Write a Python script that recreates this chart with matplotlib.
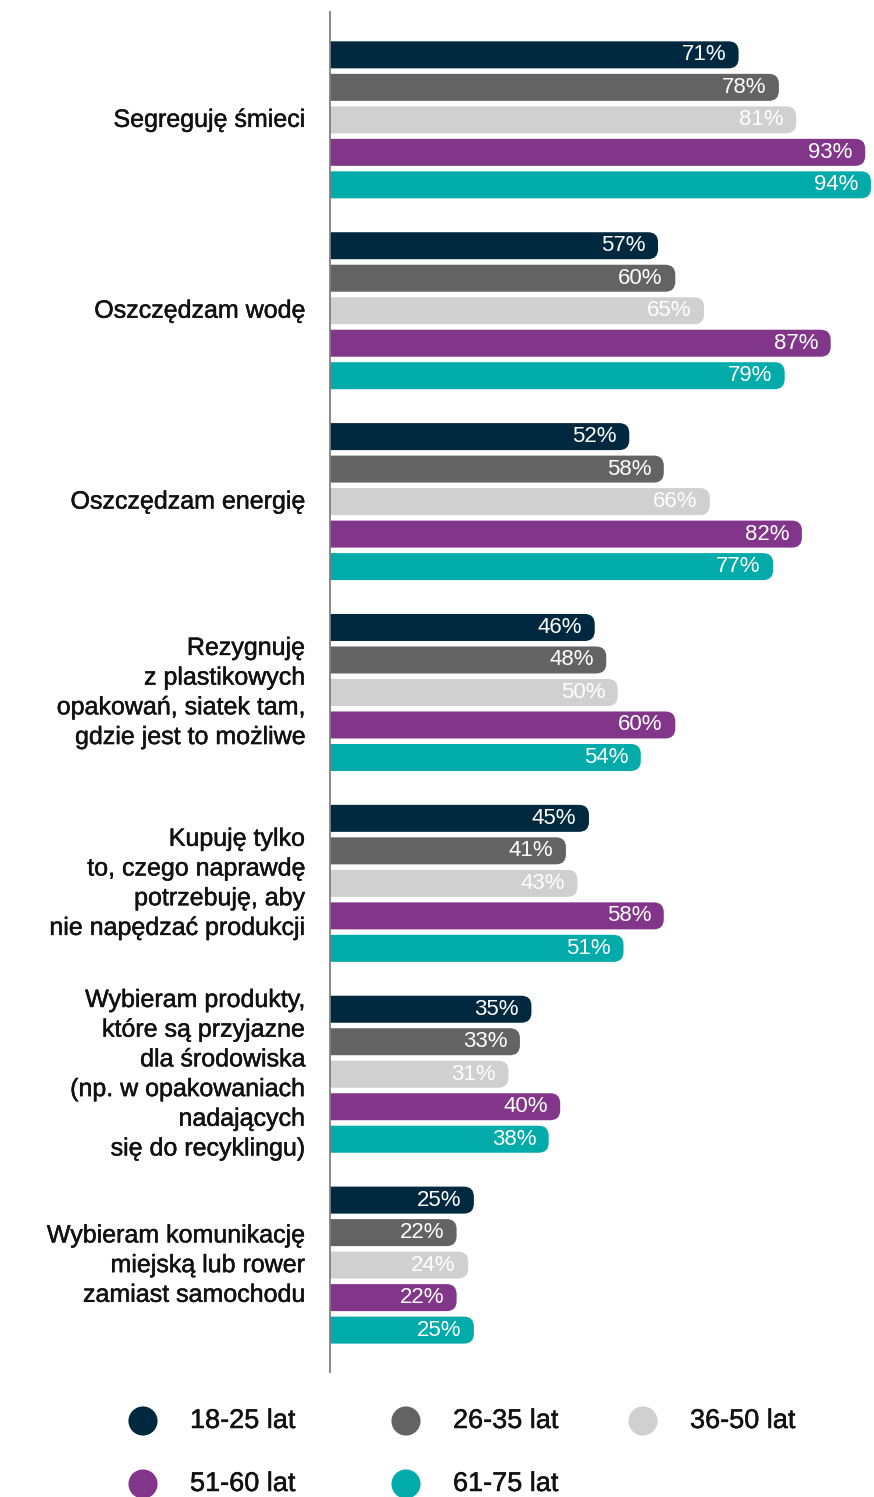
import matplotlib
matplotlib.use("Agg")
import matplotlib.pyplot as plt
import matplotlib.patheffects as pe
from matplotlib.patches import FancyBboxPatch

plt.rcParams['font.family'] = ['Liberation Sans', 'DejaVu Sans']

categories = [
    "Segreguję śmieci",
    "Oszczędzam wodę",
    "Oszczędzam energię",
    "Rezygnuję\nz plastikowych\nopakowań, siatek tam,\ngdzie jest to możliwe",
    "Kupuję tylko\nto, czego naprawdę\npotrzebuję, aby\nnie napędzać produkcji",
    "Wybieram produkty,\nktóre są przyjazne\ndla środowiska\n(np. w opakowaniach\nnadających\nsię do recyklingu)",
    "Wybieram komunikację\nmiejską lub rower\nzamiast samochodu",
]
age_groups = ["18-25 lat", "26-35 lat", "36-50 lat", "51-60 lat", "61-75 lat"]
colors = ["#00283F", "#636363", "#D0D0D0", "#82368A", "#00ABA9"]

v_18_25 = [71, 57, 52, 46, 45, 35, 25]
v_26_35 = [78, 60, 58, 48, 41, 33, 22]
v_36_50 = [81, 65, 66, 50, 43, 31, 24]
v_51_60 = [93, 87, 82, 60, 58, 40, 22]
v_61_75 = [94, 79, 77, 54, 51, 38, 25]
series = [v_18_25, v_26_35, v_36_50, v_51_60, v_61_75]

W, H = 874, 1497
fig = plt.figure(figsize=(W / 100, H / 100), dpi=100)

# main axes: y axis line sits at x=330px
ax = fig.add_axes([330 / W, 1 - 1372 / H, (W - 330) / W, 1360 / H])
n = len(categories)
px_x = 5.755          # px per percent
xmax = (W - 330) / px_x
ax.set_xlim(0, xmax)
top_pad = 0.565
bot_pad = 0.56
ax.set_ylim(n - 1 + bot_pad, -top_pad)

px_y = 1360 / (n - 1 + top_pad + bot_pad)  # px per group
step = 32.5 / px_y
bh = 27 / px_y
r = 10 / px_x
aspect = px_x / px_y

medium = [pe.withStroke(linewidth=0.35, foreground="#111111")]

for j, (vals, c) in enumerate(zip(series, colors)):
    for i, v in enumerate(vals):
        yc = i + (j - 2) * step
        p = FancyBboxPatch((-3, yc - bh / 2), v + 3, bh,
                           boxstyle=f"round,pad=0,rounding_size={r}",
                           mutation_aspect=aspect, fc=c, ec="none")
        ax.add_patch(p)
        ax.annotate(f"{v}%", xy=(v, yc), xytext=(-9, 0), textcoords="offset points",
                    ha="right", va="center", color="white", fontsize=16)

for i, cat in enumerate(categories):
    ax.annotate(cat, xy=(0, i), xytext=(-18, 0), textcoords="offset points",
                ha="right", va="center", fontsize=18, color="#111111",
                linespacing=1.3, annotation_clip=False, path_effects=medium)

for s in ["top", "right", "bottom"]:
    ax.spines[s].set_visible(False)
ax.spines["left"].set_color("#808080")
ax.spines["left"].set_linewidth(1.3)
ax.set_xticks([])
ax.set_yticks([])

# legend
lax = fig.add_axes([0, 0, 1, 1])
lax.set_xlim(0, W)
lax.set_ylim(H, 0)
lax.axis("off")
lax.patch.set_alpha(0)
leg_x = [143, 406, 643]
leg_y = [1421, 1484]
for k, (lab, c) in enumerate(zip(age_groups, colors)):
    cx = leg_x[k % 3]
    cy = leg_y[k // 3]
    lax.scatter([cx], [cy], s=440, color=c, edgecolors="none")
    lax.text(cx + 47, cy, lab, ha="left", va="center", fontsize=19.5, color="#111111",
             path_effects=medium)

fig.savefig("out.png", dpi=100)
